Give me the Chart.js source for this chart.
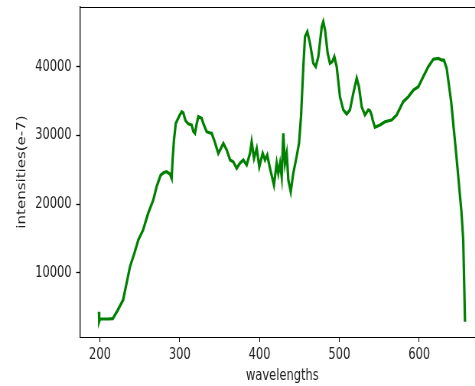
<!DOCTYPE html>
<html>
<head>
<meta charset="utf-8">
<script src="https://cdn.jsdelivr.net/npm/chart.js"></script>
<style>
html, body { margin: 0; padding: 0; background: #fff; overflow: hidden; }
#wrap { width: 645px; height: 386px; transform: scaleX(0.765); transform-origin: 0 0; }
</style>
</head>
<body>
<div id="wrap"><canvas id="spectrum"></canvas></div>
<script>
const wavelengths = [
	198.7, 199, 200, 210, 216, 222, 229, 233, 237.6, 243, 248, 254, 260.5, 266.8, 271, 276, 280,
	283.5, 287.7, 289.8, 291, 292.7, 295, 300, 302.5, 304.4, 307, 310.6, 314.9, 317, 319, 321,
	323.2, 327.4, 330, 333.7, 337, 340, 344, 348.3, 351, 354.6, 358.8, 363, 367, 371.3, 375.4,
	379.6, 383.8, 388, 390.1, 393, 396.4, 399.6, 403.9, 406.8, 409.6, 413, 418, 421.4, 423.4,
	425.6, 427.7, 429.7, 431.8, 434, 436, 439, 442.2, 446.4, 449.4, 451.9, 454.8, 456.9, 459.8,
	463.2, 467.3, 470.3, 473.6, 477.9, 479.8, 482, 485.3, 488.2, 491.1, 493.6, 496.6, 500.7,
	504.9, 509.1, 513.2, 517.4, 521.7, 524.5, 527.9, 532, 536.2, 538.3, 540.4, 541.7, 544.5,
	550.9, 557.1, 565.5, 571.8, 580, 586.4, 592.7, 598.9, 605.1, 611.4, 617.7, 624, 628.1, 631,
	634.4, 640, 647, 653, 655.2, 657.4,
];

const intensities = [
	4300, 2900, 3250, 3250, 3300, 4500, 6020, 8300, 10870, 12800, 14770, 16220, 18700, 20600, 22540, 24240, 24600,
	24720, 24390, 23760, 26500, 29340, 31780, 33000, 33450, 33300, 32200, 31700, 31530, 30600, 30320, 31600,
	32740, 32500, 31600, 30550, 30400, 30320, 29000, 27400, 28000, 28860, 27890, 26430, 26180, 25220, 25950,
	26430, 25700, 27400, 29100, 26680, 28130, 25450, 27400, 26430, 27160, 25220, 22780, 25950, 24490,
	25950, 23990, 30320, 25950, 27400, 23510, 21810, 24490, 26910, 28860, 32740, 40030, 44400, 45130,
	43440, 40520, 40030, 41490, 45860, 46590, 45380, 41980, 40520, 40760, 41490, 40030, 35660,
	33720, 33130, 33720, 36150, 38340, 37110, 34200, 32990, 33720, 33600, 32990, 32260, 31190,
	31530, 32010, 32260, 32990, 34930, 35660, 36630, 37110, 38570, 40030, 41110, 41250, 41000, 41000,
	39800, 35000, 26500, 18800, 14770, 2860,
];

const xTicks = [200, 300, 400, 500, 600];
const yTicks = [10000, 20000, 30000, 40000];

const textColor = '#222';
const tickFont = { family: 'DejaVu Sans', size: 15 };

// matplotlib style box round the plot
const frame = {
	id: 'frame',
	afterDraw(chart) {
		const a = chart.chartArea;
		const ctx = chart.ctx;
		ctx.save();
		ctx.strokeStyle = '#000';
		ctx.lineWidth = 1;
		ctx.beginPath();
		ctx.moveTo(a.left, a.top + 0.5);
		ctx.lineTo(a.right, a.top + 0.5);
		ctx.lineTo(a.right, a.bottom);
		ctx.stroke();
		ctx.restore();
	},
};

const config = {
	type: 'line',
	data: {
		datasets: [{
			label: 'spectrum',
			data: wavelengths.map((w, i) => ({ x: w, y: intensities[i] })),
			borderColor: '#008000',
			borderWidth: 3.2,
			pointRadius: 0,
			tension: 0,
			fill: false,
		}],
	},
	options: {
		responsive: true,
		maintainAspectRatio: false,
		devicePixelRatio: 1,
		animation: false,
		layout: { padding: { top: 7, right: 11.5, left: 0, bottom: 0 } },
		plugins: {
			legend: { display: false },
			tooltip: { enabled: false },
		},
		scales: {
			x: {
				type: 'linear',
				min: 175,
				max: 682,
				afterBuildTicks: (scale) => { scale.ticks = xTicks.map(v => ({ value: v })); },
				afterFit: (scale) => {
					scale.height = 49;
					scale.paddingLeft = 0;
					scale.paddingRight = 0;
				},
				grid: { display: true, drawOnChartArea: false, tickLength: 5, tickColor: '#000' },
				border: { display: true, color: '#000', width: 1 },
				ticks: { color: textColor, font: tickFont, padding: 4, maxRotation: 0,
					callback: (v) => String(v) },
				title: { display: true, text: 'wavelengths', color: textColor, font: tickFont,
					padding: { top: 0, bottom: 1 } },
			},
			y: {
				type: 'linear',
				min: 630,
				max: 48730,
				afterBuildTicks: (scale) => { scale.ticks = yTicks.map(v => ({ value: v })); },
				afterFit: (scale) => {
					scale.width = 104.6;
					scale.paddingTop = 0;
					scale.paddingBottom = 0;
				},
				grid: { display: true, drawOnChartArea: false, tickLength: 5, tickColor: '#000', tickWidth: 1.3 },
				border: { display: true, color: '#000', width: 1.3 },
				ticks: { color: textColor, font: tickFont, padding: 6,
					callback: (v) => String(v) },
				title: { display: true, text: 'intensities(e-7)', color: textColor, font: tickFont,
					padding: { top: 20.4, bottom: 0 } },
			},
		},
	},
	plugins: [frame],
};

const spectrumChart = new Chart(document.getElementById('spectrum'), config);
</script>
</body>
</html>
